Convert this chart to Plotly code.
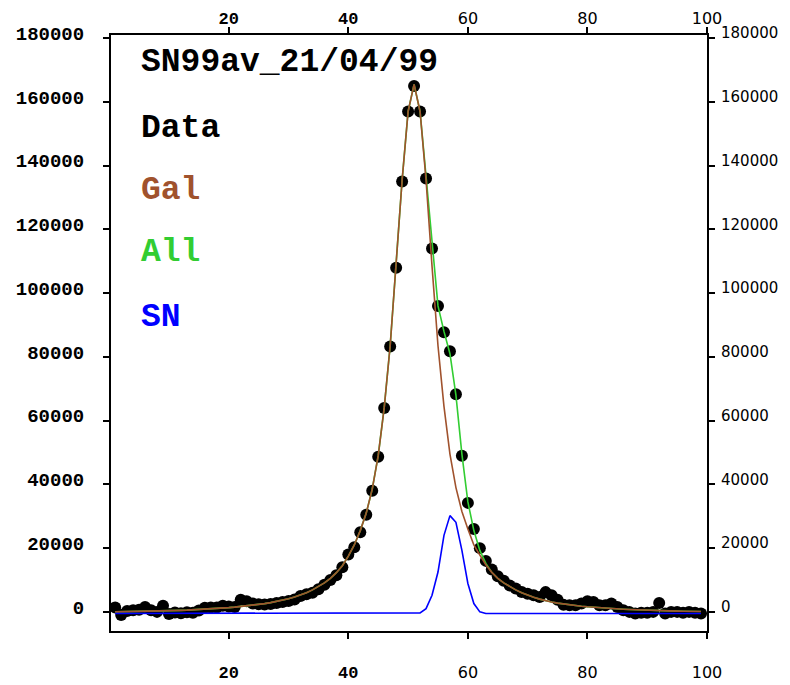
import plotly.graph_objects as go

x = list(range(1, 100))

data = [1400, -1000, 300, 500, 700, 1500, 500, 0, 1900, -700,
        -200, -400, -100, -300, 400, 1300, 1400, 1400, 1900, 1700,
        1500, 3800, 3300, 2600, 2400, 2300, 2500, 2800, 3100, 3400,
        3900, 5000, 5500, 6000, 7100, 8500, 10000, 11500, 14000, 18000,
        20300, 25000, 30500, 38000, 48700, 64000, 83300, 108000, 135000, 157000,
        165000, 157000, 136000, 114000, 96000, 87700, 81800, 68300, 49000, 34200,
        26000, 20000, 16000, 13300, 11200, 9800, 8300, 7300, 6250, 5700,
        5200, 4700, 6200, 5200, 3800, 2200, 2100, 2100, 2600, 3300,
        3100, 2100, 2100, 2600, 1500, 500, 0, -500, -300, -300,
        0, 2800, -500, 0, 0, -300, 0, -300, -500]

gal = [0, 20, 40, 70, 100, 140, 180, 230, 280, 340,
       400, 470, 540, 620, 710, 810, 920, 1040, 1170, 1320,
       1480, 1660, 1860, 2080, 2330, 2600, 2900, 3250, 3650, 4100,
       4650, 5300, 6000, 6900, 7900, 9100, 10500, 12300, 14500, 17500,
       21000, 25500, 31000, 38500, 49000, 64000, 83500, 108500, 135500, 157000,
       165500, 157000, 135500, 108500, 83500, 64500, 49500, 39000, 31500, 26000,
       21000, 17800, 14800, 12400, 10500, 9100, 7900, 6900, 6000, 5200,
       4600, 4000, 3500, 3100, 2750, 2450, 2200, 1980, 1780, 1600,
       1440, 1300, 1170, 1050, 940, 840, 750, 660, 580, 510,
       450, 390, 340, 290, 250, 210, 170, 130, 100]

all_fit = [0, 20, 40, 70, 100, 140, 180, 230, 280, 340,
           400, 470, 540, 620, 710, 810, 920, 1040, 1170, 1320,
           1480, 1660, 1860, 2080, 2330, 2600, 2900, 3250, 3650, 4100,
           4650, 5300, 6000, 6900, 7900, 9100, 10500, 12300, 14500, 17500,
           21000, 25500, 31000, 38500, 49000, 64000, 83500, 108500, 135500, 157000,
           165500, 157000, 136500, 114000, 96000, 88000, 81000, 68000, 49500, 34500,
           25500, 19300, 15200, 12400, 10500, 9100, 7900, 6900, 6000, 5200,
           4600, 4000, 3500, 3100, 2750, 2450, 2200, 1980, 1780, 1600,
           1440, 1300, 1170, 1050, 940, 840, 750, 660, 580, 510,
           450, 390, 340, 290, 250, 210, 170, 130, 100]

sn = [-500, -500, -500, -500, -500, -500, -500, -500, -500, -500,
      -500, -500, -500, -500, -500, -500, -500, -500, -500, -500,
      -500, -500, -500, -500, -500, -500, -500, -500, -500, -500,
      -500, -500, -500, -500, -500, -500, -500, -500, -500, -500,
      -500, -500, -500, -500, -500, -500, -500, -500, -500, -500,
      -500, -300, 1000, 5200, 12500, 24000, 30200, 28100, 19300, 8900,
      2600, 0, -500, -500, -500, -500, -500, -500, -500, -500,
      -500, -500, -500, -500, -500, -500, -500, -500, -500, -500,
      -500, -500, -500, -500, -500, -500, -500, -500, -500, -500,
      -500, -500, -500, -500, -500, -500, -500, -500, -500]

x_ticks = [20, 40, 60, 80, 100]
y_ticks = [0, 20000, 40000, 60000, 80000, 100000, 120000, 140000, 160000, 180000]
x_range = [0.3, 100]
y_range = [-6000, 181000]

legend_labels = ["SN99av_21/04/99", "Data", "Gal", "All", "SN"]
legend_colors = ["#000000", "#000000", "#A0522D", "#32CD32", "#0000FF"]
legend_pix_y = [62, 128, 191, 253, 317]

BOLD_MONO = "font-family:'Liberation Mono';font-weight:bold;font-size:17px"
x_ticktext = [f"<span style=\"{BOLD_MONO}\">{t}</span>" if t < 50 else str(t) for t in x_ticks]

fig = go.Figure()
fig.add_trace(go.Scatter(x=x, y=data, mode="markers",
                         marker=dict(color="black", size=12), name="Data"))
fig.add_trace(go.Scatter(x=x, y=all_fit, mode="lines",
                         line=dict(color="#32CD32", width=1.6), name="All"))
fig.add_trace(go.Scatter(x=x, y=gal, mode="lines",
                         line=dict(color="#A0522D", width=1.6), name="Gal"))
fig.add_trace(go.Scatter(x=x, y=sn, mode="lines",
                         line=dict(color="#0000FF", width=1.6), name="SN"))
fig.add_trace(go.Scatter(x=[50], y=[0], xaxis="x2", yaxis="y2", mode="markers",
                         marker=dict(opacity=0), hoverinfo="skip", showlegend=False))

# page offset of the figure (default body margin)
OFF = 8
L, T = 111, 35          # plot area position on the page
W, H = 596, 596
FW, FH = 790 - OFF, 685 - OFF

annotations = []
for lab, col, py in zip(legend_labels, legend_colors, legend_pix_y):
    annotations.append(dict(
        text=f"<b>{lab}</b>", x=(139 - L) / W, y=(T + H - py) / H,
        xref="paper", yref="paper", xanchor="left", yanchor="middle",
        showarrow=False, font=dict(family="Liberation Mono", size=33, color=col)))

axis_common = dict(showgrid=False, zeroline=False, showline=True, linecolor="black",
                   linewidth=2, ticks="outside", ticklen=6, tickwidth=2, tickcolor="black",
                   automargin=False)

fig.update_layout(
    width=FW, height=FH,
    margin=dict(l=L - OFF, r=FW - (L - OFF) - W, t=T - OFF, b=FH - (T - OFF) - H,
                autoexpand=False),
    paper_bgcolor="white", plot_bgcolor="white",
    showlegend=False,
    annotations=annotations,
    xaxis=dict(range=x_range, tickvals=x_ticks, ticktext=x_ticktext,
               tickfont=dict(family="DejaVu Sans", size=16, color="black"),
               ticklabelstandoff=20, **axis_common),
    xaxis2=dict(range=x_range, tickvals=x_ticks, ticktext=x_ticktext, overlaying="x",
                side="top", anchor="y2",
                tickfont=dict(family="DejaVu Sans", size=16, color="black"),
                ticklabelstandoff=-3, **axis_common),
    yaxis=dict(range=y_range, tickvals=y_ticks, ticktext=[str(v) for v in y_ticks],
               tickfont=dict(family="Liberation Mono", size=19, color="black", weight="bold"),
               ticklabelstandoff=15, ticklabelshift=-5, **axis_common),
    yaxis2=dict(range=y_range, tickvals=y_ticks, ticktext=[str(v) for v in y_ticks],
                overlaying="y", side="right", anchor="x2",
                tickfont=dict(family="DejaVu Sans", size=15, color="black"),
                ticklabelstandoff=3, ticklabelshift=-5, **axis_common),
)

fig.write_html("out.html")
